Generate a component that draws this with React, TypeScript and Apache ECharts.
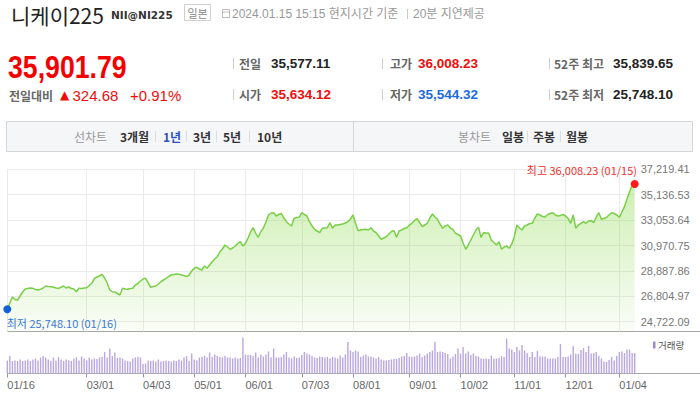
import React, { useEffect, useRef } from 'react';
import * as echarts from 'echarts';

// Japanese market holidays falling on weekdays in the period
const HOLIDAYS = ['2023-02-23', '2023-03-21', '2023-05-03', '2023-05-04', '2023-05-05', '2023-07-17', '2023-08-11', '2023-09-18', '2023-10-09', '2023-11-03', '2023-11-23', '2024-01-01', '2024-01-02', '2024-01-03', '2024-01-08'];

const X_TICK_LABELS = ['01/16', '03/01', '04/03', '05/01', '06/01', '07/03', '08/01', '09/01', '10/02', '11/01', '12/01', '01/04'];
const Y_TICK_VALUES = [24722.09, 26804.97, 28887.86, 30970.75, 33053.64, 35136.53, 37219.41];

const PRICES = [
  25748.10, 26256, 26748, 26543, 26502, 26830, 27158, 27404, 27445, 27486,
  27461, 27363, 27322, 27379, 27486, 27650, 27609, 27593, 27568, 27486,
  27461, 27543, 27650, 27486, 27568, 27445, 27404, 27181, 27461, 27445,
  27486, 27511, 27691, 27871, 28281, 28388, 28470, 28609, 28306, 27896,
  27322, 27181, 27158, 27035, 26912, 27461, 27404, 27379, 27445, 27461,
  27732, 27855, 28060, 28224, 28281, 27921, 27543, 27609, 27650, 27814,
  28003, 28142, 28281, 28429, 28552, 28593, 28634, 28609, 28552, 28511,
  28413, 28552, 28880, 29101, 29183, 29044, 28962, 29290, 29101, 29372,
  29643, 29864, 30053, 30438, 30684, 31012, 30848, 30659, 30766, 30930,
  31135, 31283, 30930, 31151, 31586, 32078, 32431, 31971, 31643, 32103,
  32406, 32898, 33472, 33636, 33661, 33390, 33513, 33611, 33226, 32923,
  32734, 32570, 33201, 33267, 33283, 33661, 33513, 33390, 32923, 32570,
  32299, 32160, 32021, 32381, 32406, 32431, 32841, 32381, 32652, 32652,
  32693, 32734, 32816, 32923, 33144, 33472, 32791, 32185, 32242, 32283,
  32299, 32242, 32431, 32160, 32021, 31750, 31479, 31586, 31693, 31914,
  32119, 32185, 31643, 32160, 32242, 32365, 32431, 32652, 32791, 33021,
  33169, 32857, 32513, 32652, 32791, 33226, 33554, 33308, 33119, 32734,
  32381, 32570, 32652, 32406, 32299, 31971, 31873, 31750, 31176, 30659,
  31012, 31422, 31832, 32242, 32463, 31643, 32021, 31996, 31971, 31422,
  31217, 31012, 31283, 30659, 30848, 30930, 30741, 31094, 31693, 32652,
  32406, 32242, 32570, 32652, 32775, 32791, 33226, 33554, 33472, 33349,
  33308, 33513, 33595, 33661, 33472, 33390, 33431, 33529, 33390, 33201,
  32791, 33472, 32381, 32652, 32791, 32923, 32791, 32980, 33005, 32841,
  33308, 33661, 33119, 33185, 33283, 33472, 33661, 33595, 33472, 33283,
  33718, 34153, 34784, 35383, 35932, 36008.23,
];

const VOLUMES = [
  650, 875, 625, 650, 625, 700, 625, 650, 700, 625,
  700, 750, 650, 800, 875, 800, 700, 625, 800, 650,
  825, 700, 625, 700, 650, 625, 750, 800, 650, 850,
  750, 650, 800, 700, 750, 725, 800, 825, 1075, 800,
  1250, 875, 1050, 775, 800, 750, 650, 625, 600, 750,
  800, 825, 800, 475, 500, 650, 625, 650, 600, 700,
  600, 625, 650, 625, 600, 650, 625, 700, 650, 800,
  875, 625, 1000, 700, 650, 800, 825, 875, 800, 1050,
  825, 950, 875, 825, 800, 875, 800, 800, 750, 800,
  750, 775, 1800, 950, 925, 925, 875, 1050, 800, 950,
  850, 950, 1100, 800, 1250, 800, 800, 825, 950, 1075,
  800, 750, 850, 775, 800, 925, 1075, 1000, 950, 875,
  800, 775, 850, 825, 800, 825, 750, 825, 800, 750,
  900, 800, 950, 1575, 1150, 1075, 1150, 1100, 825, 900,
  950, 850, 850, 800, 750, 825, 700, 650, 650, 675,
  700, 725, 725, 775, 850, 875, 1025, 850, 825, 850,
  900, 1000, 825, 900, 1000, 1075, 1150, 1575, 1075, 1100,
  1075, 1025, 975, 750, 850, 975, 1250, 1000, 1325, 1000,
  1100, 925, 1000, 875, 850, 750, 725, 750, 725, 900,
  750, 750, 775, 875, 825, 1750, 1250, 1200, 1075, 1325,
  1150, 1425, 1150, 1025, 825, 1075, 825, 1125, 850, 850,
  850, 750, 750, 750, 750, 825, 1475, 825, 825, 850,
  950, 1375, 1000, 975, 1175, 1275, 1075, 1375, 1000, 1025,
  1075, 875, 750, 600, 575, 675, 825, 650, 875, 1075,
  1100, 1025, 1200, 1200, 1025, 1025,
];

function tradingDays(): string[] {
  const out: string[] = [];
  const d = new Date(Date.UTC(2023, 0, 16));
  const end = Date.UTC(2024, 0, 15);
  while (d.getTime() <= end) {
    const wd = d.getUTCDay();
    const iso = d.toISOString().slice(0, 10);
    if (wd !== 0 && wd !== 6 && HOLIDAYS.indexOf(iso) < 0) out.push(iso.slice(5, 7) + '/' + iso.slice(8, 10));
    d.setUTCDate(d.getUTCDate() + 1);
  }
  return out;
}

const fmt = (v: number) => v.toLocaleString('en-US', { minimumFractionDigits: 2, maximumFractionDigits: 2 });

const KR = "'Noto Sans CJK KR', sans-serif";
const AR = "'Liberation Sans', 'Noto Sans CJK KR', sans-serif";

function txt(text: string, x: number, y: number, size: number, color: string, o: any = {}) {
  return {
    type: 'text', x, y, scaleX: o.scaleX ?? 1, silent: true,
    style: {
      text, fill: color, fontSize: size, fontFamily: o.family ?? AR,
      fontWeight: o.weight ?? 'normal', align: o.align ?? 'left', verticalAlign: 'middle',
    },
  };
}
function ln(x1: number, y1: number, x2: number, y2: number, color: string, w = 1) {
  return { type: 'line', silent: true, shape: { x1, y1, x2, y2 }, style: { stroke: color, lineWidth: w } };
}

export default function App() {
  const ref = useRef<HTMLDivElement>(null);
  useEffect(() => {
    const chart = echarts.init(ref.current!, null, { renderer: 'svg' });
    const dates = tradingDays();
    const tickSet = new Set(X_TICK_LABELS);
    const showTick = (_i: number, v: string) => tickSet.has(v);

    let maxI = 0, minI = 0;
    PRICES.forEach((p, i) => { if (p > PRICES[maxI]) maxI = i; if (p < PRICES[minI]) minI = i; });

    const RED = '#f20c0c';
    const BLUE = '#1c6be0';

    const graphic: any[] = [
      // title row
      txt('니케이225', 11, 14.5, 21, '#222', { family: KR }),
      txt('NII@NI225', 111, 15, 10.5, '#333', { family: "'DejaVu Sans', sans-serif", weight: 'bold' }),
      { type: 'rect', silent: true, shape: { x: 184.5, y: 4.5, width: 26, height: 16 }, style: { fill: '#fff', stroke: '#cfcfcf', lineWidth: 1 } },
      txt('일본', 197.5, 12.5, 11, '#888', { family: KR, align: 'center' }),
      { type: 'rect', silent: true, shape: { x: 222.5, y: 9.5, width: 7, height: 8 }, style: { fill: 'none', stroke: '#bbb', lineWidth: 1 } },
      ln(222.5, 12, 229.5, 12, '#bbb'),
      txt('2024.01.15 15:15 현지시간 기준', 232, 14, 12, '#999'),
      ln(407.5, 9, 407.5, 19, '#ccc'),
      txt('20분 지연제공', 413, 14, 12, '#999'),
      // price
      txt('35,901.79', 8, 67, 31, '#f40000', { weight: 'bold', scaleX: 0.86 }),
      txt('전일대비', 9, 95, 12, '#666', { family: KR, weight: 'bold' }),
      txt('▲', 60, 95, 12, RED, { family: "'DejaVu Sans', sans-serif" }),
      txt('324.68', 72.5, 95, 15, RED),
      txt('+0.91%', 130, 95, 15, RED),
      // info grid
      ln(233.5, 58, 233.5, 69, '#ccc'), ln(233.5, 89, 233.5, 100, '#ccc'),
      ln(382.5, 58, 382.5, 69, '#ccc'), ln(382.5, 89, 382.5, 100, '#ccc'),
      ln(549.5, 58, 549.5, 69, '#ccc'), ln(549.5, 89, 549.5, 100, '#ccc'),
      txt('전일', 239, 63.5, 12, '#666', { family: KR, weight: 'bold' }),
      txt('35,577.11', 271, 63.5, 13.5, '#222', { weight: 'bold' }),
      txt('시가', 239, 94, 12, '#666', { family: KR, weight: 'bold' }),
      txt('35,634.12', 271, 94, 13.5, RED, { weight: 'bold' }),
      txt('고가', 390, 63.5, 12, '#666', { family: KR, weight: 'bold' }),
      txt('36,008.23', 418, 63.5, 13.5, RED, { weight: 'bold' }),
      txt('저가', 390, 94, 12, '#666', { family: KR, weight: 'bold' }),
      txt('35,544.32', 418, 94, 13.5, BLUE, { weight: 'bold' }),
      txt('52주 최고', 554, 63.5, 12, '#666', { family: KR, weight: 'bold' }),
      txt('35,839.65', 613, 63.5, 13.5, '#222', { weight: 'bold' }),
      txt('52주 최저', 554, 94, 12, '#666', { family: KR, weight: 'bold' }),
      txt('25,748.10', 613, 94, 13.5, '#222', { weight: 'bold' }),
      // tab bar
      { type: 'rect', silent: true, shape: { x: 6.5, y: 121.5, width: 686, height: 30 }, style: { fill: '#f5f6f8', stroke: '#d6d6d6', lineWidth: 1 } },
      ln(353.5, 122, 353.5, 151, '#d6d6d6'),
      txt('선차트', 74, 136.5, 12, '#999', { family: KR }),
      txt('3개월', 120, 136.5, 12, '#333', { family: KR, weight: 'bold' }),
      ln(155.5, 131, 155.5, 142, '#ddd'),
      txt('1년', 163, 136.5, 12, '#2d52c0', { family: KR, weight: 'bold' }),
      ln(186.5, 131, 186.5, 142, '#ddd'),
      txt('3년', 193, 136.5, 12, '#333', { family: KR, weight: 'bold' }),
      ln(216.5, 131, 216.5, 142, '#ddd'),
      txt('5년', 223, 136.5, 12, '#333', { family: KR, weight: 'bold' }),
      ln(249.5, 131, 249.5, 142, '#ddd'),
      txt('10년', 257, 136.5, 12, '#333', { family: KR, weight: 'bold' }),
      txt('봉차트', 458, 136.5, 12, '#999', { family: KR }),
      txt('일봉', 502, 136.5, 12, '#333', { family: KR, weight: 'bold' }),
      ln(527.5, 131, 527.5, 142, '#ddd'),
      txt('주봉', 533, 136.5, 12, '#333', { family: KR, weight: 'bold' }),
      ln(560.5, 131, 560.5, 142, '#ddd'),
      txt('월봉', 566, 136.5, 12, '#333', { family: KR, weight: 'bold' }),
      // chart separators
      ln(7, 331.5, 700, 331.5, '#a8a8a8'),
      ln(7, 373.5, 700, 373.5, '#a8a8a8'),
      // volume legend
      { type: 'rect', silent: true, shape: { x: 653, y: 341.5, width: 2.5, height: 7 }, style: { fill: '#9d87d4' } },
      txt('거래량', 658, 345, 9.5, '#555', { family: KR }),
    ];

    chart.setOption({
      animation: false,
      graphic,
      grid: [
        { left: 7.3, right: 65.3, top: 169.3, height: 162.2 },
        { left: 7.3, right: 65.3, top: 331.5, height: 42 },
      ],
      xAxis: [
        {
          gridIndex: 0, type: 'category', data: dates, boundaryGap: false,
          axisLine: { show: false }, axisTick: { show: false }, axisLabel: { show: false },
          splitLine: { show: true, interval: showTick, lineStyle: { color: '#ebebeb', width: 1 } },
        },
        {
          gridIndex: 1, type: 'category', data: dates, boundaryGap: false,
          axisLine: { show: false },
          axisTick: { show: true, interval: showTick, length: 4, lineStyle: { color: '#999' } },
          axisLabel: { interval: showTick, align: 'left', color: '#666', fontSize: 11, fontFamily: AR, margin: 6 },
          splitLine: { show: false },
        },
      ],
      yAxis: [
        {
          gridIndex: 0, type: 'value', position: 'right', min: 23919, max: 37219.41,
          axisLine: { show: false },
          axisTick: { show: false, customValues: Y_TICK_VALUES },
          axisLabel: { customValues: Y_TICK_VALUES, formatter: (v: number) => fmt(v), color: '#777', fontSize: 11, fontFamily: AR, margin: 6 },
          splitLine: { show: true, lineStyle: { color: '#ebebeb', width: 1 } },
        },
        { gridIndex: 1, type: 'value', min: 0, max: 2100, show: false, splitLine: { show: false } },
      ],
      series: [
        {
          type: 'line', xAxisIndex: 0, yAxisIndex: 0, data: PRICES,
          showSymbol: false, symbol: 'none',
          lineStyle: { color: '#79cf47', width: 1.5 },
          areaStyle: {
            color: new echarts.graphic.LinearGradient(0, 0, 0, 1, [
              { offset: 0, color: 'rgba(130,215,60,0.55)' },
              { offset: 1, color: 'rgba(130,215,60,0.06)' },
            ]),
          },
          markPoint: {
            symbol: 'circle', symbolSize: 8, silent: true,
            data: [
              {
                coord: [dates[maxI], PRICES[maxI]], value: PRICES[maxI],
                itemStyle: { color: '#ff1a1a' },
                label: {
                  show: true, formatter: `최고 ${fmt(PRICES[maxI])} (${dates[maxI]})`,
                  position: [6.3, -10], align: 'right', verticalAlign: 'middle',
                  color: '#f03030', fontSize: 11, fontFamily: KR,
                },
              },
              {
                coord: [dates[minI], PRICES[minI]], value: PRICES[minI],
                itemStyle: { color: '#1460d8' },
                label: {
                  show: true, formatter: `최저 ${fmt(PRICES[minI])} (${dates[minI]})`,
                  position: [3.4, 17.5], align: 'left', verticalAlign: 'middle',
                  color: '#3b78d8', fontSize: 11, fontFamily: KR,
                },
              },
            ],
          },
        },
        {
          type: 'bar', xAxisIndex: 1, yAxisIndex: 1, data: VOLUMES,
          barWidth: 1.4, itemStyle: { color: '#b9a7e1' },
        },
      ],
    });
    return () => chart.dispose();
  }, []);
  return <div ref={ref} style={{ position: 'absolute', left: 0, top: 0, width: 700, height: 397, background: '#fff' }} />;
}
